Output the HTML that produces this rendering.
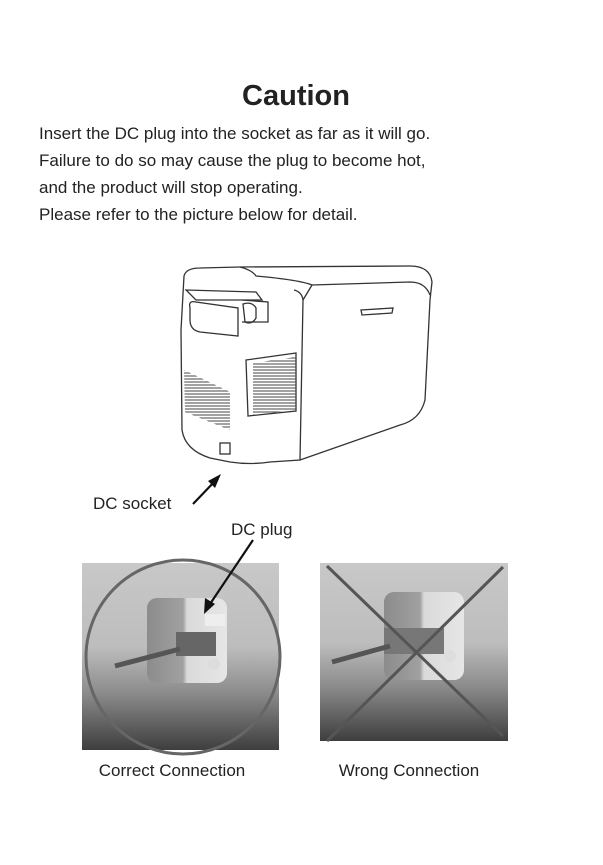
<!DOCTYPE html>
<html><head><meta charset="utf-8"><style>
body{margin:0;background:#fff;width:603px;height:860px;overflow:hidden;font-family:"Liberation Sans",Arial,sans-serif;}
</style></head><body>
<svg width="603" height="860" viewBox="0 0 603 860" xmlns="http://www.w3.org/2000/svg" font-family="Liberation Sans, Arial, sans-serif">
<defs>
<linearGradient id="bg" x1="0" y1="0" x2="0" y2="1">
<stop offset="0" stop-color="#c8c8c8"/><stop offset="0.45" stop-color="#bdbdbd"/><stop offset="0.7" stop-color="#8a8a8a"/><stop offset="1" stop-color="#3e3e3e"/>
</linearGradient>
<linearGradient id="rec" x1="0" y1="0" x2="1" y2="0">
<stop offset="0" stop-color="#8c8c8c"/><stop offset="0.45" stop-color="#a0a0a0"/><stop offset="0.5" stop-color="#dadada"/><stop offset="1" stop-color="#e6e6e6"/>
</linearGradient>
<pattern id="hatch" width="4" height="3" patternUnits="userSpaceOnUse"><line x1="0" y1="1" x2="4" y2="1" stroke="#444" stroke-width="1"/></pattern>
</defs>
<text x="296" y="105" font-size="29" font-weight="bold" text-anchor="middle" fill="#222">Caution</text>
<g font-size="17" fill="#222">
<text x="39" y="139">Insert the DC plug into the socket as far as it will go.</text>
<text x="39" y="166">Failure to do so may cause the plug to become hot,</text>
<text x="39" y="193">and the product will stop operating.</text>
<text x="39" y="220">Please refer to the picture below for detail.</text>
</g>
<!-- cooler -->
<g fill="none" stroke="#333" stroke-width="1.3">
<path d="M184 276 Q186 268 200 268 L240 267 L410 266 Q430 266 432 282 L430 300 L425 400 Q420 420 400 425 L300 460"/>
<path d="M184 276 L181 330 L182 430 Q185 450 210 458 L230 462 Q250 465 270 462 L300 460 L303 300 Q302 292 294 290"/>
<path d="M240 267 Q252 270 256 276 Q300 280 312 285 L303 300"/>
<path d="M312 285 L410 282 Q425 282 430 295"/>
<path d="M186 290 L256 292 L262 300 L196 300 Z"/>
<path d="M190 308 Q188 300 196 302 L238 308 L238 336 L200 332 Q190 330 190 320 Z"/>
<path d="M243 304 Q252 301 256 308 L256 318 Q252 325 245 322 Z"/>
<path d="M242 300 L268 302 L268 322 L242 322"/>
<path d="M361 310 L393 308 L392 313 L362 315 Z"/>
<path d="M246 360 L296 353 L296 411 L248 416 Z"/>
<rect x="220" y="443" width="10" height="11"/>
</g>
<path d="M253 363 L296 357 L296 410 L253 415 Z" fill="url(#hatch)"/>
<path d="M184 370 L230 392 L230 430 L185 412 Z" fill="url(#hatch)"/>
<!-- DC socket -->
<text x="93" y="509" font-size="17" fill="#222">DC socket</text>
<line x1="193" y1="504" x2="216" y2="480" stroke="#111" stroke-width="2.2"/>
<path d="M221 474 L208 481 L215 488 Z" fill="#111"/>
<text x="231" y="535" font-size="17" fill="#222">DC plug</text>
<!-- left photo -->
<rect x="82" y="563" width="197" height="187" fill="url(#bg)"/>
<rect x="147" y="598" width="80" height="85" rx="10" fill="url(#rec)"/>
<rect x="205" y="614" width="20" height="12" fill="#eee"/>
<rect x="176" y="632" width="40" height="24" fill="#666"/>
<line x1="115" y1="666" x2="180" y2="649" stroke="#555" stroke-width="5"/>
<circle cx="214" cy="664" r="6" fill="#ddd"/>
<circle cx="183" cy="657" r="97" fill="none" stroke="#666" stroke-width="3"/>
<line x1="253" y1="540" x2="210" y2="604" stroke="#111" stroke-width="2.2"/>
<path d="M204 614 L205 598 L215 604 Z" fill="#111"/>
<!-- right photo -->
<rect x="320" y="563" width="188" height="178" fill="url(#bg)"/>
<rect x="384" y="592" width="80" height="88" rx="10" fill="url(#rec)"/>
<rect x="384" y="628" width="60" height="26" fill="#777"/>
<line x1="332" y1="662" x2="390" y2="646" stroke="#555" stroke-width="5"/>
<circle cx="450" cy="656" r="6" fill="#ddd"/>
<line x1="327" y1="566" x2="503" y2="736" stroke="#555" stroke-width="3"/>
<line x1="503" y1="567" x2="327" y2="741" stroke="#555" stroke-width="3"/>
<text x="172" y="776" font-size="17" fill="#222" text-anchor="middle">Correct Connection</text>
<text x="409" y="776" font-size="17" fill="#222" text-anchor="middle">Wrong Connection</text>
</svg>
</body></html>
